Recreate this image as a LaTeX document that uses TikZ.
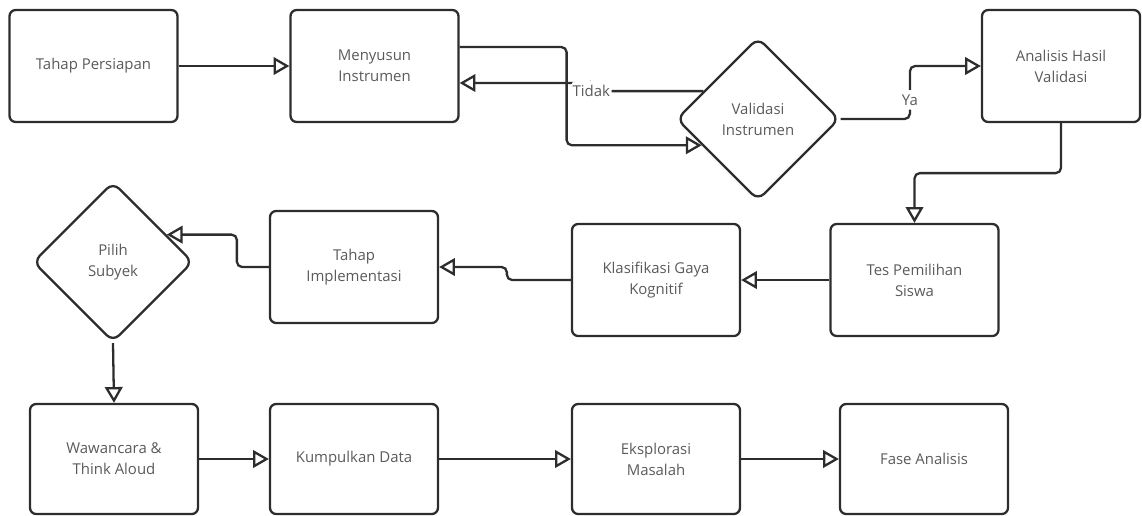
\documentclass[tikz,border=0pt]{standalone}
\usepackage{fontspec}
\setmainfont{Open Sans}
\usetikzlibrary{arrows.meta, shapes.geometric}
\definecolor{garis}{RGB}{45,45,45}
\definecolor{teks}{RGB}{90,90,90}

\begin{document}
\begin{tikzpicture}[x=0.02cm, y=-0.02cm, font=\fontsize{8.5}{12}\selectfont,
    kotak/.style={draw=garis, line width=1.3pt, rounded corners=3.5pt, minimum width=3.36cm,
      minimum height=2.24cm, align=center, text=teks, inner sep=2pt},
    wajik/.style={draw=garis, line width=1.3pt, diamond, rounded corners=5pt, align=center,
      text=teks, inner sep=0pt, aspect=1, minimum width=3.26cm, minimum height=3.26cm},
    alur/.style={draw=garis, line width=1.3pt, rounded corners=3pt,
      -{Triangle[fill=white, length=9pt, width=10pt]}},
    ket/.style={fill=white, text=teks, inner xsep=1pt, inner ysep=2.5pt}]

      \useasboundingbox (0,0) rectangle (1142,515);

      % 1. Baris atas
      \node[kotak] (persiapan) at (93.5,66) {Tahap Persiapan};
      \node[kotak] (menyusun) at (374.5,66) {Menyusun\\Instrumen};
      \node[wajik] (validasi) at (758,119) {Validasi\\Instrumen};
      \node[kotak, minimum width=3.16cm] (analisis) at (1061,66) {Analisis Hasil\\Validasi};

      % 2. Baris tengah
      \node[kotak] (tes) at (914.5,280) {Tes Pemilihan\\Siswa};
      \node[kotak] (klasifikasi) at (656,280) {Klasifikasi Gaya\\Kognitif};
      \node[kotak] (implementasi) at (354,267) {Tahap\\Implementasi};
      \node[wajik, minimum width=3.2cm, minimum height=3.2cm] (pilih) at (113,262) {Pilih\\Subyek};

      % 3. Baris bawah
      \node[kotak, minimum height=2.2cm] (wawancara) at (114,459) {Wawancara \&\\Think Aloud};
      \node[kotak, minimum height=2.2cm] (kumpulkan) at (354,459) {Kumpulkan Data};
      \node[kotak, minimum height=2.2cm] (eksplorasi) at (656,459) {Eksplorasi\\Masalah};
      \node[kotak, minimum height=2.2cm] (fase) at (924,459) {Fase Analisis};

      % 4. Alur
      \draw[alur] (persiapan.east) -- (menyusun.west);
      \draw[alur] ([yshift=0.38cm]menyusun.east) -- ++(107,0) |- (validasi.205);
      \draw[alur] (validasi.153) -- ++(-112,0) node[ket]{Tidak} |- ([yshift=-0.34cm]menyusun.east);
      \draw[alur] (validasi.east) -| node[ket, pos=0.68]{Ya} ([xshift=-1.42cm]analisis.west) -- (analisis.west);
      \draw[alur] (analisis.south) -- ++(0,50) -| (tes.north);
      \draw[alur] (tes.west) -- (klasifikasi.east);
      \draw[alur] (klasifikasi.west) -- ++(-64,0) |- (implementasi.east);
      \draw[alur] (implementasi.west) -- ++(-32,0) |- (pilih.27);
      \draw[alur] (pilih.south) -- (wawancara.north);
      \draw[alur] (wawancara.east) -- (kumpulkan.west);
      \draw[alur] (kumpulkan.east) -- (eksplorasi.west);
      \draw[alur] (eksplorasi.east) -- (fase.west);

\end{tikzpicture}
\end{document}
